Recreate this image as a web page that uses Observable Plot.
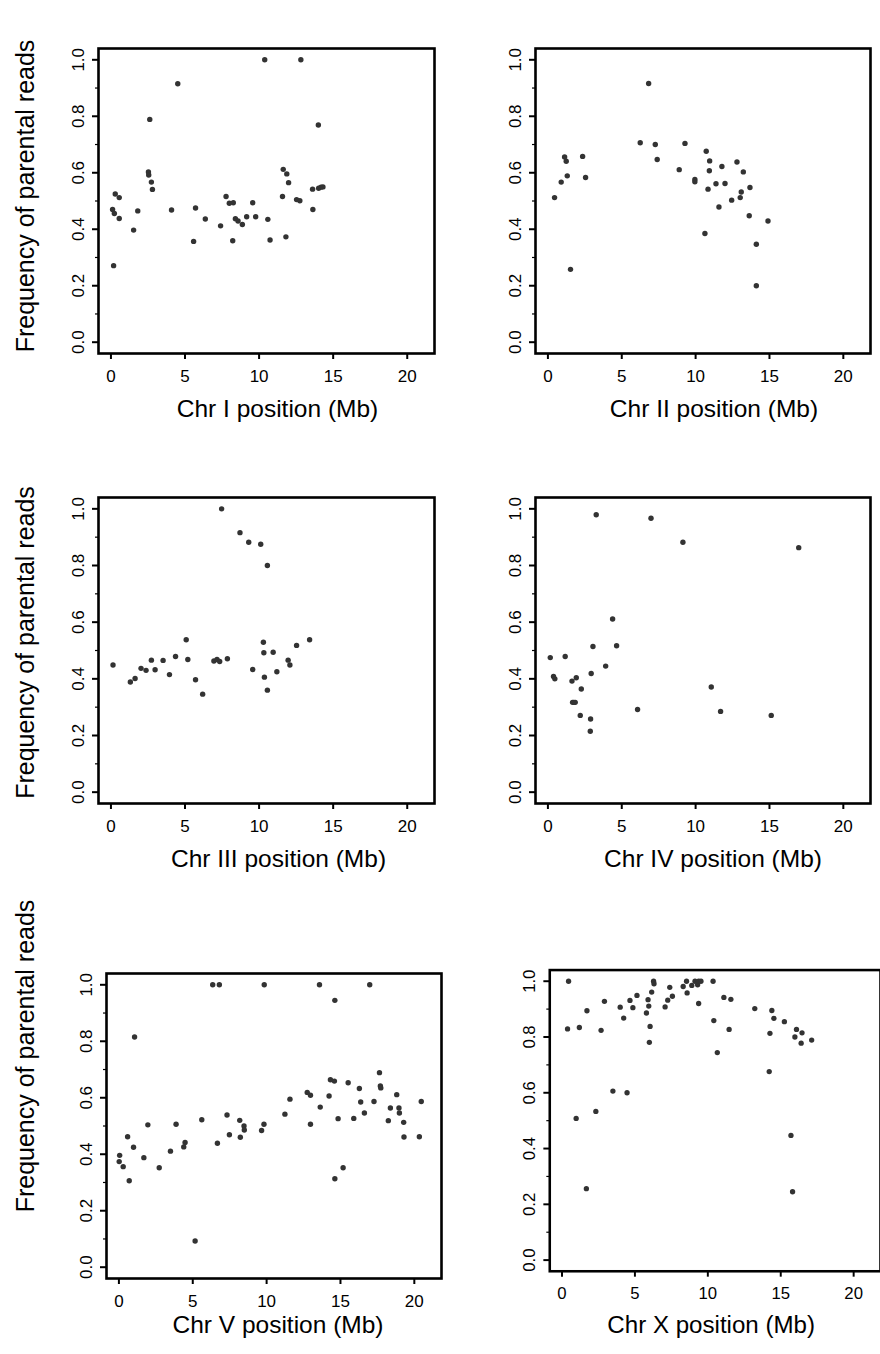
<!DOCTYPE html>
<html>
<head>
<meta charset="utf-8">
<script src="https://cdn.jsdelivr.net/npm/d3@7"></script>
<script src="https://cdn.jsdelivr.net/npm/@observablehq/plot@0.6"></script>
<style>
  html, body { margin: 0; padding: 0; background: #fff; overflow: hidden; }
  #page { position: relative; width: 880px; height: 1354px; overflow: hidden; background: #fff; }
  .panel { position: absolute; }
  .panel svg { overflow: visible; }
</style>
</head>
<body>
<div id="page"></div>
<script>
// ---------- data (position in Mb, frequency of parental reads) ----------
const chrIX = [0.11,0.23,0.56,0.29,0.56,0.18,1.53,1.81,2.62,2.53,2.55,2.73,2.80,4.51,4.09,5.58,5.71,6.37,7.40,7.77,7.99,8.26,8.22,8.40,8.58,8.87,9.16,9.57,9.77,10.38,10.59,10.74,11.58,11.63,11.87,11.99,11.81,12.53,12.75,12.82,14.00,13.61,13.63,14.02,14.18,14.31];
const chrIY = [0.470,0.456,0.438,0.525,0.512,0.271,0.397,0.465,0.789,0.603,0.592,0.567,0.541,0.915,0.468,0.357,0.475,0.436,0.412,0.516,0.492,0.494,0.359,0.437,0.429,0.417,0.444,0.494,0.444,1.000,0.435,0.362,0.516,0.612,0.596,0.565,0.373,0.505,0.501,1.000,0.769,0.542,0.470,0.545,0.549,0.550];

const chrIIX = [0.45,0.90,1.13,1.24,1.31,1.53,2.35,2.55,6.25,6.82,7.27,7.40,8.89,9.28,9.95,9.95,10.63,10.72,10.95,10.93,10.84,11.38,11.58,11.78,11.99,12.44,12.80,13.02,13.09,13.23,13.63,13.68,14.11,14.11,14.90];
const chrIIY = [0.512,0.567,0.656,0.641,0.589,0.258,0.658,0.583,0.706,0.916,0.700,0.647,0.611,0.704,0.576,0.568,0.385,0.676,0.642,0.607,0.542,0.561,0.479,0.622,0.562,0.503,0.638,0.512,0.532,0.603,0.448,0.548,0.347,0.200,0.429];

const chrIIIX = [0.14,1.31,1.63,2.03,2.37,2.73,2.98,3.52,3.95,4.36,5.08,5.19,5.71,6.19,6.95,7.16,7.34,7.47,7.86,8.71,9.30,9.57,10.11,10.29,10.32,10.36,10.56,10.56,10.95,11.20,11.96,12.08,12.53,13.41];
const chrIIIY = [0.449,0.389,0.401,0.437,0.430,0.466,0.432,0.465,0.415,0.479,0.538,0.468,0.397,0.346,0.463,0.468,0.461,1.000,0.471,0.916,0.882,0.433,0.875,0.529,0.492,0.406,0.800,0.360,0.494,0.425,0.466,0.449,0.518,0.538];

const chrIVX = [0.16,0.38,0.47,1.17,1.63,1.76,1.67,1.85,1.92,2.26,2.19,2.89,2.87,2.93,3.05,3.27,3.91,4.38,4.65,6.07,6.98,9.14,11.06,11.69,15.12,16.98];
const chrIVY = [0.475,0.408,0.400,0.479,0.392,0.317,0.317,0.317,0.404,0.364,0.271,0.258,0.215,0.419,0.514,0.979,0.445,0.611,0.517,0.292,0.967,0.882,0.371,0.285,0.271,0.863];

const chrVX = [0.05,0.02,0.29,0.70,0.59,0.99,1.06,1.69,1.96,2.73,3.49,3.87,4.39,4.48,5.16,5.61,6.35,6.80,6.67,7.32,7.48,8.18,8.22,8.47,8.49,9.66,9.82,9.84,11.24,11.58,12.75,12.97,12.97,13.58,13.63,14.23,14.32,14.59,14.62,14.62,14.84,15.18,15.52,15.90,16.28,16.37,16.62,16.98,17.27,17.64,17.70,17.73,18.24,18.38,18.81,18.96,18.99,19.28,19.30,20.34,20.47];
const chrVY = [0.396,0.374,0.356,0.306,0.462,0.425,0.815,0.388,0.504,0.352,0.411,0.506,0.426,0.442,0.093,0.522,1.000,1.000,0.439,0.539,0.469,0.520,0.460,0.500,0.486,0.484,0.506,1.000,0.542,0.595,0.619,0.609,0.506,1.000,0.567,0.606,0.664,0.659,0.945,0.313,0.526,0.352,0.653,0.527,0.633,0.585,0.546,1.000,0.587,0.689,0.642,0.635,0.519,0.564,0.611,0.564,0.546,0.513,0.461,0.462,0.587];

const chrXX = [0.45,0.38,1.19,0.97,1.71,1.67,2.32,2.68,2.91,3.49,3.99,4.23,4.46,4.66,4.86,5.14,5.79,5.90,5.95,6.04,5.99,6.15,6.28,6.31,7.07,7.25,7.39,7.57,8.31,8.54,8.58,8.90,9.12,9.30,9.37,9.53,9.37,10.36,10.41,10.65,11.10,11.46,11.58,13.22,14.21,14.26,14.39,14.53,15.25,15.70,15.81,15.97,16.08,16.40,16.46,17.12];
const chrXY = [1.000,0.829,0.834,0.508,0.894,0.256,0.533,0.824,0.928,0.606,0.907,0.868,0.600,0.931,0.905,0.949,0.886,0.934,0.911,0.838,0.781,0.961,1.000,0.991,0.908,0.932,0.978,0.946,0.981,1.000,0.958,0.985,1.000,0.987,1.000,1.000,0.920,1.000,0.859,0.744,0.942,0.827,0.935,0.902,0.676,0.813,0.895,0.867,0.855,0.447,0.245,0.800,0.827,0.778,0.815,0.789];

// axis ticks and labels
const xTicks = [0, 5, 10, 15, 20];
const yTicks = [0, 0.2, 0.4, 0.6, 0.8, 1.0];
const yMinorTicks = [0.1, 0.3, 0.5, 0.7, 0.9];
const yTitle = "Frequency of parental reads";
const xTitles = ["Chr I position (Mb)", "Chr II position (Mb)", "Chr III position (Mb)", "Chr IV position (Mb)", "Chr V position (Mb)", "Chr X position (Mb)"];

// ---------- layout ----------
const panels = [
  {x: chrIX,   y: chrIY,   title: xTitles[0], left: 0,   top: 0,   w: 440, h: 440, m: [48, 6, 87, 98],  tdx: 11, tdy: 63, yTitle: true,  ydy: -5},
  {x: chrIIX,  y: chrIIY,  title: xTitles[1], left: 440, top: 0,   w: 440, h: 440, m: [48, 10, 87, 95], tdx: 11, tdy: 63, yTitle: false},
  {x: chrIIIX, y: chrIIIY, title: xTitles[2], left: 0,   top: 440, w: 440, h: 440, m: [57, 6, 77, 98],  tdx: 12, tdy: 63, yTitle: true,  ydy: -8},
  {x: chrIVX,  y: chrIVY,  title: xTitles[3], left: 440, top: 440, w: 440, h: 440, m: [57, 10, 77, 95], tdx: 10, tdy: 63, yTitle: false},
  {x: chrVX,   y: chrVY,   title: xTitles[4], left: 0,   top: 880, w: 442, h: 474, m: [93, 1, 76, 106], tdx: 4,  tdy: 54, yTitle: true,  ydy: -70},
  {x: chrXX,   y: chrXY,   title: xTitles[5], left: 440, top: 880, w: 447, h: 474, m: [91, 0, 77, 111], tdx: -4, tdy: 63, yTitle: false}
];

const font = "'Liberation Sans', Arial, Helvetica, sans-serif";
const page = document.getElementById("page");

for (const p of panels) {
  const data = p.x.map((v, i) => ({pos: v, freq: p.y[i]}));
  const marks = [
    Plot.frame({stroke: "black", strokeWidth: 2.6}),
    Plot.axisX({ticks: xTicks, tickSize: 6, tickPadding: 10, strokeWidth: 2, fontSize: 17, fill: "black", label: null}),
    Plot.axisY({ticks: yTicks, tickSize: 6, tickPadding: 9, tickRotate: -90, strokeWidth: 2, fontSize: 17, fill: "black",
                tickFormat: d3.format(".1f"), label: null}),
    Plot.axisY({ticks: yMinorTicks, tickSize: 3, strokeWidth: 1.2, tickFormat: () => "", label: null}),
    Plot.dot(data, {x: "pos", y: "freq", r: 2.7, fill: "#333333", stroke: "none"}),
    Plot.text([p.title], {frameAnchor: "bottom", dx: p.tdx, dy: p.tdy, textAnchor: "middle", lineAnchor: "bottom", fontSize: 24.5, fill: "black"})
  ];
  if (p.yTitle) {
    marks.push(Plot.text([yTitle], {frameAnchor: "left", dx: 33 - p.m[3], dy: p.ydy, rotate: -90, textAnchor: "middle", lineAnchor: "bottom", fontSize: 25, fill: "black"}));
  }
  const chart = Plot.plot({
    width: p.w,
    height: p.h,
    marginTop: p.m[0],
    marginRight: p.m[1],
    marginBottom: p.m[2],
    marginLeft: p.m[3],
    style: {fontFamily: font, background: "transparent", color: "black", overflow: "visible"},
    x: {domain: [-0.84, 21.84]},
    y: {domain: [-0.04, 1.04]},
    marks
  });
  const div = document.createElement("div");
  div.className = "panel";
  div.style.left = p.left + "px";
  div.style.top = p.top + "px";
  div.appendChild(chart);
  page.appendChild(div);
}
</script>
</body>
</html>
